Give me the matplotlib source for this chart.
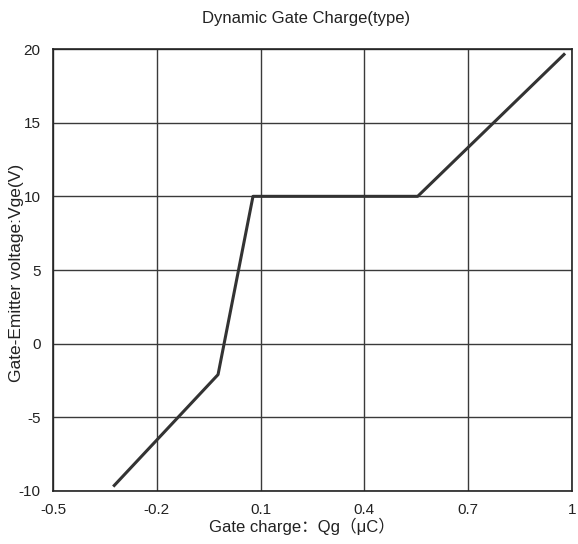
import matplotlib
matplotlib.use("Agg")
import matplotlib.pyplot as plt

# Gate charge curve (Qg in uC, Vge in V)
qg = [-0.326, -0.023, 0.078, 0.554, 0.98]
vge = [-9.7, -2.1, 10.0, 10.0, 19.7]

x_ticks = [-0.5, -0.2, 0.1, 0.4, 0.7, 1.0]
x_labels = ["-0.5", "-0.2", "0.1", "0.4", "0.7", "1"]
y_ticks = [-10, -5, 0, 5, 10, 15, 20]

plt.rcParams["font.family"] = ["Liberation Sans", "Noto Sans CJK SC", "DejaVu Sans"]
plt.rcParams["axes.unicode_minus"] = False

W, H = 578, 544
fig = plt.figure(figsize=(W / 100, H / 100), dpi=100)
ax = fig.add_axes([53 / W, 1 - 491 / H, 519 / W, 442 / H])

ax.plot(qg, vge, color="#333333", linewidth=2.2, solid_capstyle="butt", zorder=3)

ax.set_xlim(-0.5, 1.0)
ax.set_ylim(-10, 20)
ax.set_xticks(x_ticks)
ax.set_xticklabels(x_labels)
ax.set_yticks(y_ticks)
ax.grid(True, color="#3a3a3a", linewidth=1.0)
ax.tick_params(axis="x", length=0, labelsize=11, pad=9, colors="#222222")
ax.tick_params(axis="y", length=0, labelsize=11, pad=9, colors="#222222")
for sp in ax.spines.values():
    sp.set_color("#222222")
    sp.set_linewidth(1.2)

# title and axis labels placed in figure pixels
fig.text(306 / W, 1 - 18 / H, "Dynamic Gate Charge(type)", fontsize=12,
         ha="center", va="center", color="#222222")
fig.text(302 / W, 1 - 526 / H, "Gate charge：Qg（μC）", fontsize=12,
         ha="center", va="center", color="#222222")
fig.text(17 / W, 1 - 273 / H, "Gate-Emitter voltage:Vge(V)", fontsize=12.5,
         ha="center", va="center", rotation=90, color="#222222")

fig.savefig("out.png", dpi=100)
